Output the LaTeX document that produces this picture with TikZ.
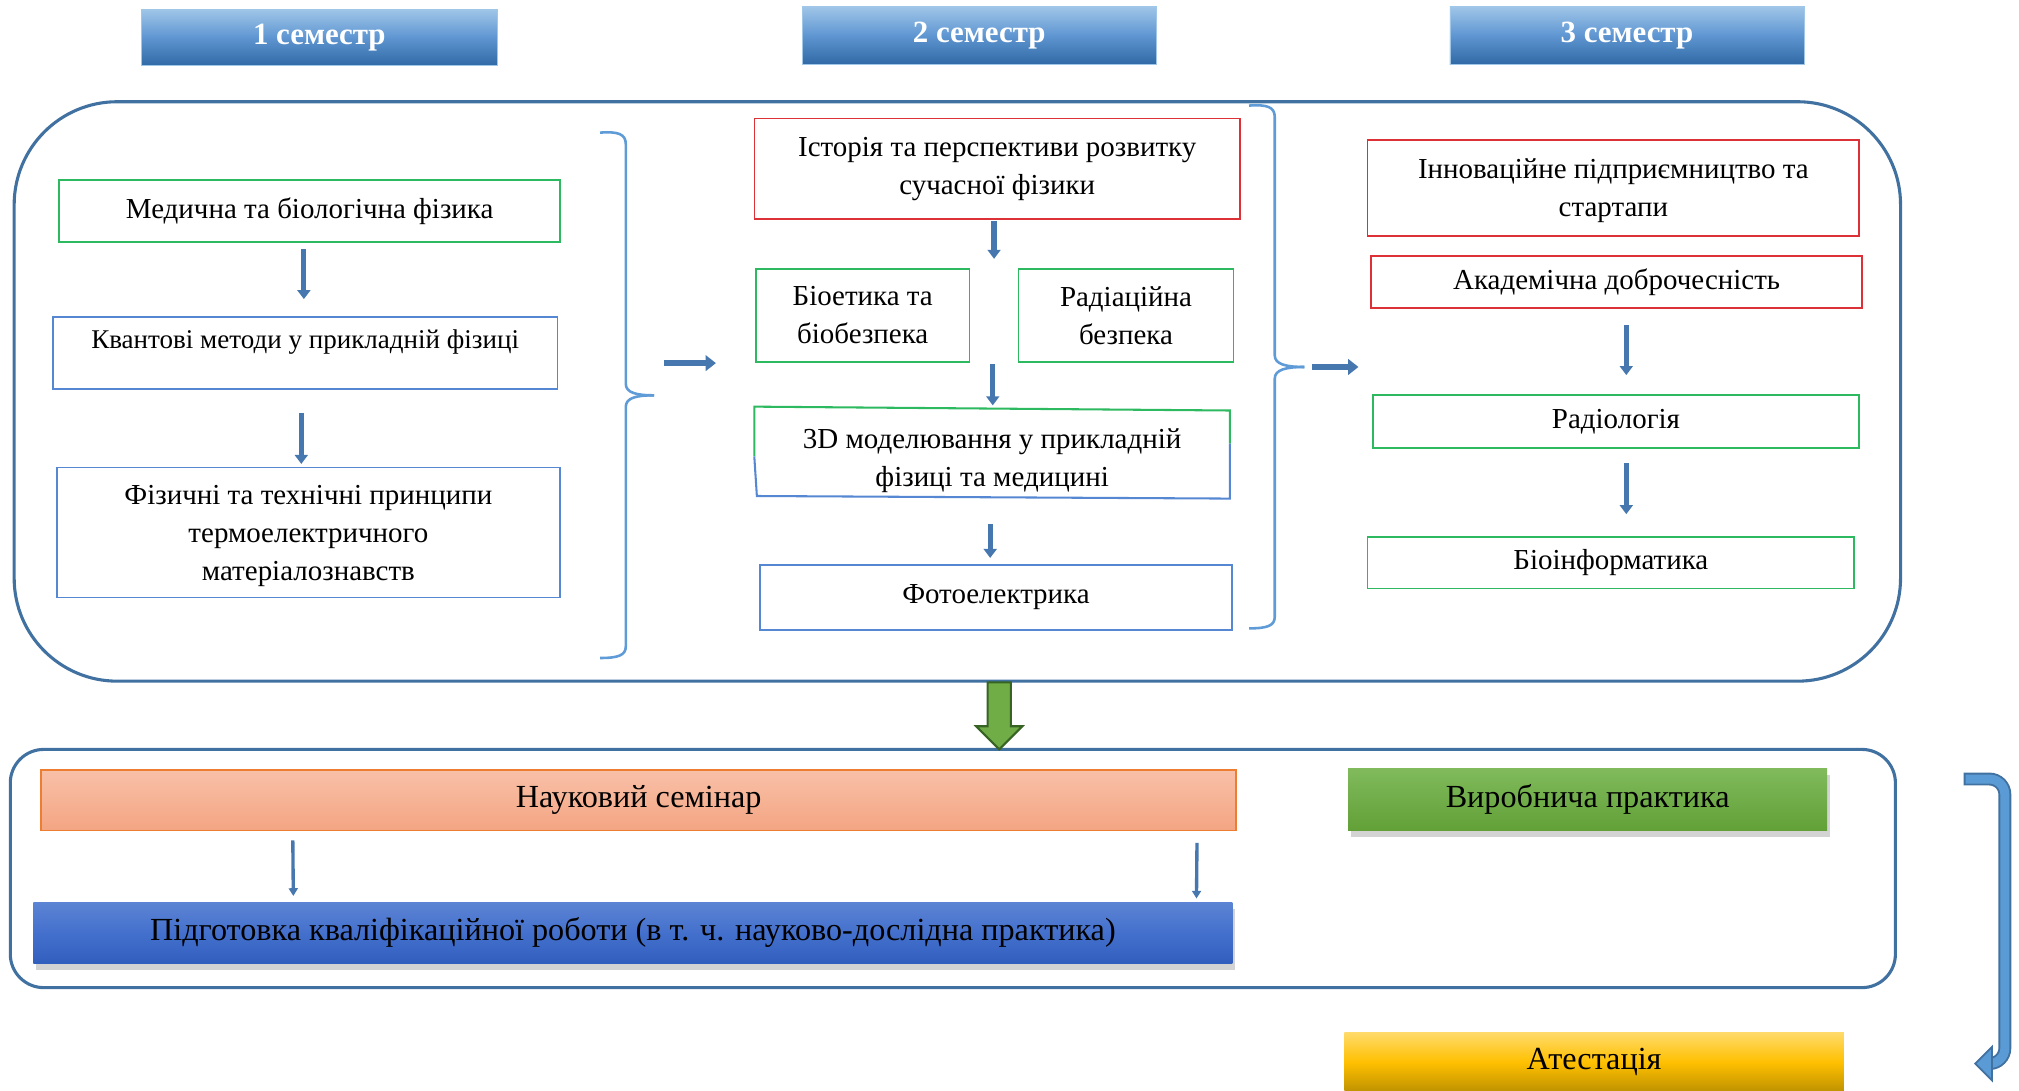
\documentclass[tikz,border=0pt]{standalone}
\usepackage{fontspec}
\setmainfont{Liberation Serif}
\usetikzlibrary{shadows,arrows.meta}
\definecolor{cGreen}{RGB}{45,185,95}
\definecolor{cRed}{RGB}{220,50,55}
\definecolor{cBlue}{RGB}{85,135,210}
\definecolor{cFrame}{RGB}{65,113,160}
\definecolor{cBrace}{RGB}{95,155,215}
\definecolor{cArrow}{RGB}{70,120,175}
\definecolor{hTop}{RGB}{160,198,232}
\definecolor{hMid}{RGB}{95,150,210}
\definecolor{hBot}{RGB}{48,105,165}
\definecolor{oTop}{RGB}{248,192,168}
\definecolor{oBot}{RGB}{244,165,130}
\definecolor{oBorder}{RGB}{237,125,49}
\definecolor{pTop}{RGB}{92,132,212}
\definecolor{pMid}{RGB}{68,112,205}
\definecolor{pBot}{RGB}{50,95,190}
\definecolor{vTop}{RGB}{128,186,92}
\definecolor{vBot}{RGB}{98,160,55}
\definecolor{yTop}{RGB}{255,218,105}
\definecolor{yMid}{RGB}{255,192,0}
\definecolor{yBot}{RGB}{190,145,0}
\definecolor{gFill}{RGB}{112,173,71}
\definecolor{gDark}{RGB}{55,100,35}
\definecolor{caFill}{RGB}{91,155,213}
\begin{document}
\begin{tikzpicture}[x=1pt,y=-1pt,
  txt/.style={font=\fontsize{22.5}{29.5}\selectfont, align=center, inner sep=0pt, text=black},
  gbox/.style={txt, draw=cGreen, line width=1.4pt},
  rbox/.style={txt, draw=cRed, line width=1.4pt},
  bbox/.style={txt, draw=cBlue, line width=1.4pt},
  hdr/.style={top color=hTop, bottom color=hBot, middle color=hMid, draw=hTop, line width=0.6pt,
    font=\fontsize{24}{28}\selectfont\bfseries, text=white, inner sep=0pt},
  bar/.style={font=\fontsize{25}{28}\selectfont, text=black, inner sep=0pt},
  darr/.style={draw=cArrow, line width=4pt, -{Triangle[width=10pt,length=7pt]}},
  rarr/.style={draw=cArrow, line width=5pt, -{Triangle[width=12pt,length=8pt]}},
  tarr/.style={draw=cArrow, line width=2.6pt, -{Triangle[width=7pt,length=6pt]}},
  brace/.style={draw=cBrace, line width=2pt},
  frame/.style={draw=cFrame, line width=2.4pt}
]
\useasboundingbox (0,0) rectangle (1568,847);

% headers
\node[hdr, minimum width=276pt, minimum height=44pt] (h1) at (248,29) {1 семестр};
\node[hdr, minimum width=275pt, minimum height=45pt] (h2) at (760.5,27.5) {2 семестр};
\node[hdr, minimum width=275pt, minimum height=45pt] (h3) at (1263.5,27.5) {3 семестр};

% outer frames
\draw[frame, rounded corners=80pt] (11,79) rectangle (1476,529);
\draw[frame, rounded corners=26pt] (8,582) rectangle (1472,767);

% column 1
\node[gbox, minimum width=389pt, minimum height=48pt] (med) at (240.5,164) {Медична та біологічна фізика};
\node[bbox, font=\fontsize{21}{29.5}\selectfont, minimum width=392pt, minimum height=56pt, text height=15pt, text depth=21pt] (kv) at (237,274) {Квантові методи у прикладній фізиці};
\node[bbox, minimum width=391pt, minimum height=101pt] (fiz) at (239.5,413.5) {};
\node[txt] (fizt) at ([yshift=-3pt]fiz.center) {Фізичні та технічні принципи\\термоелектричного\\матеріалознавств};

\draw[darr] ([xshift=-4.5pt,yshift=-5pt]med.south) -- ([xshift=-1pt,yshift=13pt]kv.north);
\draw[darr] ([xshift=-3pt,yshift=-18pt]kv.south) -- ([xshift=-5.5pt,yshift=2pt]fiz.north);

% brace 1
\draw[brace] (466,103) .. controls (480,102) and (486,104) .. (486,112) -- (486,298) .. controls (486,305) and (494,307) .. (508,307);
\draw[brace] (508,307) .. controls (494,307) and (486,309) .. (486,316) -- (486,502) .. controls (486,509) and (480,511) .. (466,511);
\coordinate (r1s) at (516,282);
\coordinate (r1e) at (556,282);
\draw[rarr] (r1s) -- (r1e);

% column 2
\node[rbox, minimum width=377pt, minimum height=78pt] (hist) at (774.5,131) {Історія та перспективи розвитку\\сучасної фізики};
\node[gbox, minimum width=166pt, minimum height=72pt] (bio) at (670,245) {Біоетика та\\біобезпека};
\node[gbox, minimum width=167pt, minimum height=72pt] (rad) at (874.5,245) {Радіаційна\\безпека};
\node[minimum width=369pt, minimum height=69pt, inner sep=0pt] (td) at (770.5,350.5) {};
\node[txt] (tdt) at ([yshift=-7pt]td.center) {3D моделювання у прикладній\\фізиці та медицині};
\draw[cGreen, line width=1.6pt] ([yshift=-4pt]td.west) -- (td.north west) -- ([yshift=-3pt]td.north east) -- ([yshift=6pt]td.east);
\draw[cBlue, line width=1.6pt] ([yshift=-4pt]td.west) -- ([xshift=2pt]td.south west) -- ([yshift=-2pt]td.south east) -- ([yshift=6pt]td.east);
\node[bbox, minimum width=367pt, minimum height=50pt] (foto) at (773.5,464) {Фотоелектрика};

\coordinate (c3) at (772,201);
\coordinate (c4) at (771,283);
\draw[darr] ([xshift=-2.5pt,yshift=-1pt]hist.south) -- (c3);
\draw[darr] (c4) -- ([xshift=0.5pt,yshift=1pt]td.north);
\draw[darr] ([xshift=-1.5pt,yshift=-22pt]td.south) -- ([xshift=-4.5pt,yshift=5pt]foto.north);

% brace 2
\draw[brace] (970,82) .. controls (984,81) and (990,83) .. (990,91) -- (990,276) .. controls (990,283) and (999,285) .. (1013,285);
\draw[brace] (1013,285) .. controls (999,285) and (990,287) .. (990,294) -- (990,479) .. controls (990,486) and (984,488) .. (970,488);
\coordinate (r2s) at (1019,285);
\coordinate (r2e) at (1055,285);
\draw[rarr] (r2s) -- (r2e);

% column 3
\node[rbox, minimum width=382pt, minimum height=74pt] (inn) at (1253,146) {};
\node[txt] (innt) at ([yshift=-2pt]inn.center) {Інноваційне підприємництво та\\стартапи};
\node[rbox, minimum width=381pt, minimum height=40pt] (acad) at (1255.5,219) {Академічна доброчесність};
\node[gbox, minimum width=378pt, minimum height=41pt] (radio) at (1255,327.5) {Радіологія};
\node[gbox, minimum width=378pt, minimum height=40pt] (binf) at (1251,437) {Біоінформатика};
\draw[darr] ([xshift=7.5pt,yshift=-13pt]acad.south) -- ([xshift=8pt,yshift=15pt]radio.north);
\draw[darr] ([xshift=8pt,yshift=-11pt]radio.south) -- ([xshift=12pt,yshift=17pt]binf.north);

% green block arrow between frames
\draw[fill=gFill, draw=gDark, line width=1.6pt, line join=miter]
  (767,530) -- (785,530) -- (785,564) -- (794,564) -- (776,582) -- (758,564) -- (767,564) -- cycle;

% lower part
\node[bar, top color=oTop, bottom color=oBot, draw=oBorder, line width=1.2pt, minimum width=928pt, minimum height=47pt] (sem) at (496,621.5) {Науковий семінар};
\node[bar, top color=pTop, bottom color=pBot, middle color=pMid, minimum width=931pt, minimum height=47pt,
  drop shadow={shadow xshift=2pt, shadow yshift=-5pt, opacity=0.35}] (pid) at (491.5,724.5) {Підготовка кваліфікаційної роботи (в т. ч. науково-дослідна практика)};
\node[bar, top color=vTop, bottom color=vBot, minimum width=372pt, minimum height=48pt,
  drop shadow={shadow xshift=2pt, shadow yshift=-5pt, opacity=0.35}] (vyr) at (1233,621) {Виробнича практика};
\node[bar, top color=yTop, bottom color=yBot, middle color=yMid, minimum width=388pt, minimum height=46pt] (ates) at (1238,825) {Атестація};

\draw[tarr] ([xshift=196pt,yshift=-7pt]sem.south west) -- ([xshift=202pt,yshift=5pt]pid.north west);
\draw[tarr] ([xshift=-31pt,yshift=-9pt]sem.south east) -- ([xshift=-28pt,yshift=3pt]pid.north east);

% curved arrow on the right
\coordinate (ca1) at (1525,605);
\coordinate (ca2) at (1545,826);
\draw[draw=cFrame, line width=10pt] (ca1) -- (1545,605) arc[start angle=90, end angle=0, radius=12pt] -- (1557,814) arc[start angle=0, end angle=-90, radius=12pt] -- (ca2);
\draw[draw=caFill, line width=7pt] ([xshift=1.5pt]ca1) -- (1545,605) arc[start angle=90, end angle=0, radius=12pt] -- (1557,814) arc[start angle=0, end angle=-90, radius=12pt] -- ([xshift=1pt]ca2);
\draw[fill=caFill, draw=cFrame, line width=1.4pt, line join=miter] (1534,826) -- (1547,813) -- (1547,839) -- cycle;
\end{tikzpicture}
\end{document}
